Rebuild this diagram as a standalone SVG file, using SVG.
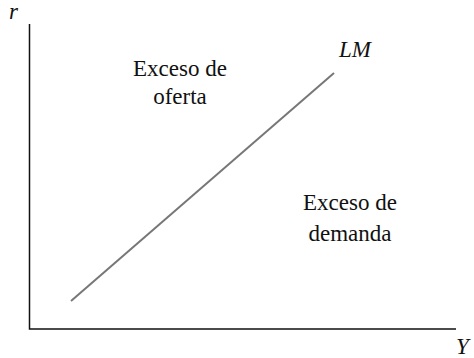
<svg xmlns="http://www.w3.org/2000/svg" width="474" height="358" viewBox="0 0 474 358">
<style>
.t{font-family:"Liberation Serif",serif;font-size:23px;fill:#111}
.i{font-style:italic}
.ax{stroke:#111;stroke-width:1.5;fill:none}
</style>
<rect width="474" height="358" fill="#fff"/>
<g id="axes">
<path class="ax" d="M29.5 24V329H456"/>
</g>
<g id="connectors">
<line x1="71" y1="301" x2="334" y2="73" stroke="#777" stroke-width="2"/>
</g>
<g id="r-label"><text class="t i" x="9" y="19">r</text></g>
<g id="y-label"><text class="t i" x="456" y="354">Y</text></g>
<g id="lm-label"><text class="t i" x="339" y="57">LM</text></g>
<g id="oferta"><text class="t" text-anchor="middle"><tspan x="180" y="76">Exceso de</tspan><tspan x="180" y="104">oferta</tspan></text></g>
<g id="demanda"><text class="t" text-anchor="middle"><tspan x="350" y="210">Exceso de</tspan><tspan x="350" y="241">demanda</tspan></text></g>
</svg>
